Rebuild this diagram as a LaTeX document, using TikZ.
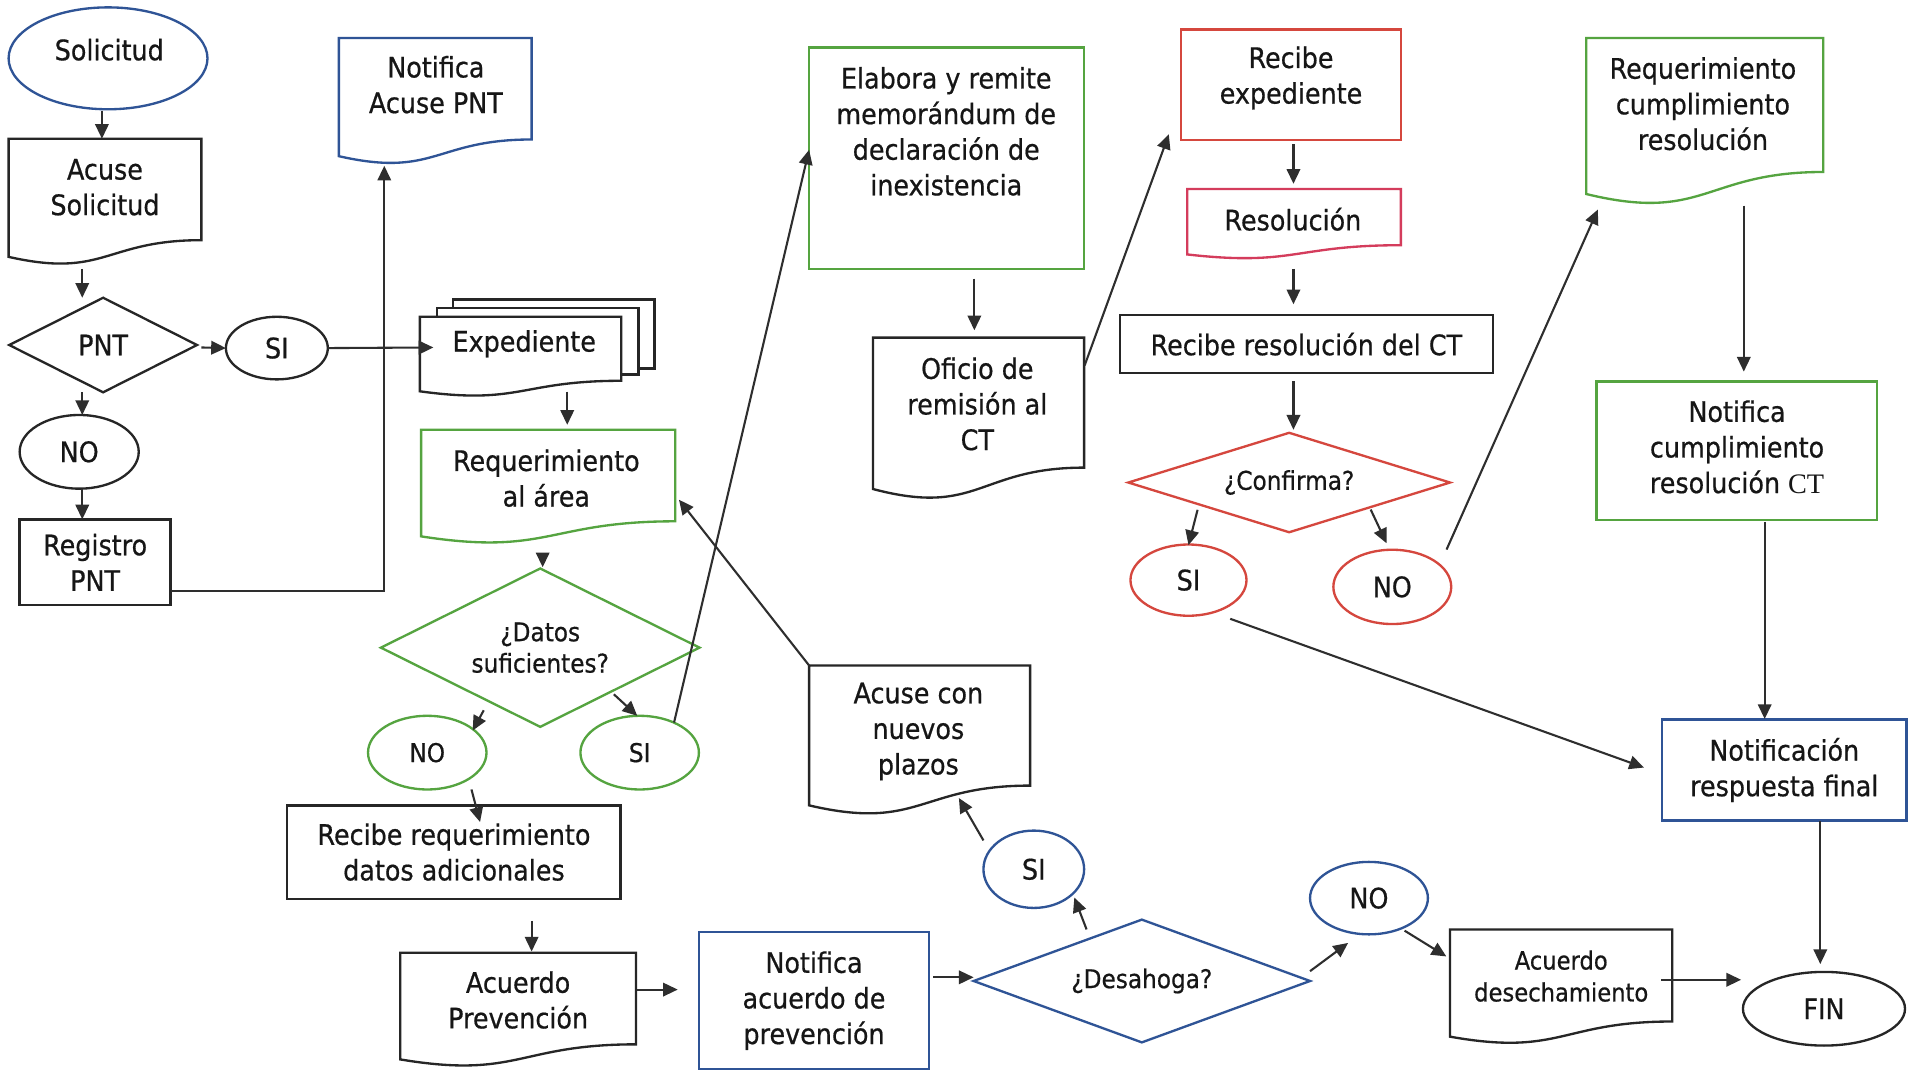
\documentclass[tikz,border=0pt]{standalone}
\usepackage{fontspec}
\setmainfont{DejaVu Sans}[FakeStretch=0.9,FakeBold=0.6]
\newfontfamily\ctfont{Liberation Serif}
\usetikzlibrary{shapes.geometric,arrows.meta,calc}
\definecolor{cblue}{HTML}{2F5496}
\definecolor{cgreen}{HTML}{55A440}
\definecolor{cred}{HTML}{D5473E}
\definecolor{cpink}{HTML}{D43C5C}
\definecolor{cdark}{HTML}{262626}
\definecolor{cline}{HTML}{2E2E2E}
\definecolor{ctext}{HTML}{161616}
\newcommand{\docoutline}[2]{%
  \draw[#2] let \p1=(#1.north west), \p2=(#1.south east) in
    (\x1,\y1) -- (\x2,\y1) -- (\x2,{\y1+0.802*(\y2-\y1)})
    .. controls ({(\x1+\x2)/2},{\y1+0.802*(\y2-\y1)}) and ({(\x1+\x2)/2},{\y1+1.107*(\y2-\y1)}) ..
    (\x1,{\y1+0.934*(\y2-\y1)}) -- cycle;}
\begin{document}
\begin{tikzpicture}[x=1pt,y=-1pt,
  every node/.style={inner sep=0pt, outer sep=0pt},
  shp/.style={line width=1.9pt},
  box/.style={shp, draw, rectangle},
  ell/.style={shp, draw, ellipse},
  dia/.style={shp, draw, diamond, shape aspect=2},
  ghost/.style={draw=none, rectangle},
  txt/.style={text=ctext, align=center, font=\fontsize{23}{29}\selectfont},
  stxt/.style={text=ctext, align=center, font=\fontsize{21}{25.5}\selectfont},
  arr/.style={draw=cline, line width=1.7pt, -{Triangle[length=12pt,width=11pt]}},
]
\fill[white] (0,0) rectangle (1563,871);
\useasboundingbox (0,0) rectangle (1563,871);

% ---------- column 1 ----------
\node[ell, draw=cblue, minimum width=162pt, minimum height=83pt] (sol) at (88,47.5) {};
\node[txt] (sol-t) at (89,40.5) {Solicitud};

\node[ghost, minimum width=157pt, minimum height=103pt] (acuse) at (85.5,164.5) {};
\docoutline{acuse}{shp,draw=cdark}
\node[txt] (acuse-t) at (85.5,152.5) {Acuse\\Solicitud};

\node[dia, txt, draw=cdark, minimum width=153pt, minimum height=77pt] (pnt) at (84,281) {PNT};
\node[ell, txt, draw=cdark, minimum width=83pt, minimum height=51pt] (si1) at (225.5,283.5) {SI};
\node[ell, txt, draw=cdark, minimum width=97pt, minimum height=60pt] (no1) at (64.5,368) {NO};
\node[box, txt, draw=cdark, minimum width=123pt, minimum height=70pt] (reg) at (77.5,458) {Registro\\PNT};

\node[ghost, minimum width=157pt, minimum height=103pt] (notacuse) at (354.5,82.5) {};
\docoutline{notacuse}{shp,draw=cblue}
\node[txt] (notacuse-t) at (355,69) {Notifica\\Acuse PNT};

% ---------- Expediente (multi document) ----------
\node[ghost, minimum width=164pt, minimum height=65pt] (exped) at (424,290.5) {};
\draw[shp,draw=cdark] ([shift={(27,-7)}]exped.north west) -- ([shift={(27,-14)}]exped.north west)
  -- ([shift={(27,-14)}]exped.north east) -- ([shift={(27,42)}]exped.north east) -- ([shift={(14,42)}]exped.north east);
\draw[shp,draw=cdark] ([shift={(14,0)}]exped.north west) -- ([shift={(14,-7)}]exped.north west)
  -- ([shift={(14,-7)}]exped.north east) -- ([shift={(14,47)}]exped.north east) -- ([shift={(0,47)}]exped.north east);
\docoutline{exped}{shp,draw=cdark}
\node[txt] (exped-t) at (427,280) {Expediente};

\node[ghost, minimum width=207pt, minimum height=93pt] (reqarea) at (446.5,396.5) {};
\docoutline{reqarea}{shp,draw=cgreen}
\node[txt] (reqarea-t) at (445,389.5) {Requerimiento\\al área};

\node[dia, stxt, draw=cgreen, minimum width=259.5pt, minimum height=129pt] (datos) at (440,527.5) {¿Datos\\suficientes?};
\node[ell, stxt, draw=cgreen, minimum width=96.5pt, minimum height=60pt] (nog) at (348,613) {NO};
\node[ell, stxt, draw=cgreen, minimum width=96.5pt, minimum height=60pt] (sig) at (521,613) {SI};

\node[box, txt, draw=cdark, minimum width=271.5pt, minimum height=76pt] (recreq) at (369.75,694) {Recibe requerimiento\\datos adicionales};

\node[ghost, minimum width=192pt, minimum height=93pt] (acprev) at (422,822.5) {};
\docoutline{acprev}{shp,draw=cdark}
\node[txt] (acprev-t) at (422,814.5) {Acuerdo\\Prevención};

\node[box, txt, draw=cblue, minimum width=187pt, minimum height=112pt] (notacu) at (663,815) {Notifica\\acuerdo de\\prevención};

\node[dia, stxt, draw=cblue, minimum width=274pt, minimum height=100pt] (desah) at (930,799) {¿Desahoga?};
\node[ell, txt, draw=cblue, minimum width=82pt, minimum height=63pt] (sib) at (842,708) {SI};

\node[ghost, minimum width=180pt, minimum height=122pt] (plazos) at (749,603) {};
\docoutline{plazos}{shp,draw=cdark}
\node[txt] (plazos-t) at (748,595.8) {Acuse con\\nuevos\\plazos};

\node[ell, txt, draw=cblue, minimum width=96pt, minimum height=59pt] (nob) at (1115,731.5) {NO};

\node[ghost, minimum width=181pt, minimum height=93.5pt] (desech) at (1271.5,803.75) {};
\docoutline{desech}{shp,draw=cdark}
\node[text=ctext, align=center, font=\fontsize{20.5}{26}\selectfont] (desech-t) at (1271.6,795) {Acuerdo\\desechamiento};

\node[ell, txt, draw=cdark, minimum width=132pt, minimum height=60pt] (fin) at (1485.6,821.6) {FIN};

% ---------- middle / right ----------
\node[box, draw=cgreen, minimum width=224pt, minimum height=180.4pt] (elab) at (771,128.8) {};
\node[txt] (elab-t) at (770.7,107) {Elabora y remite\\memorándum de\\declaración de\\inexistencia};

\node[ghost, minimum width=172pt, minimum height=132pt] (oficio) at (797,341) {};
\docoutline{oficio}{shp,draw=cdark}
\node[txt] (oficio-t) at (796,329) {Oficio de\\remisión al\\CT};

\node[box, draw=cred, minimum width=179pt, minimum height=90pt] (recexp) at (1051.5,69) {};
\node[txt] (recexp-t) at (1051.5,63.5) {Recibe\\expediente};

\node[ghost, minimum width=174pt, minimum height=57pt] (resol) at (1054,182.5) {};
\docoutline{resol}{shp,draw=cpink}
\node[txt] (resol-t) at (1053,178.6) {Resolución};

\node[box, txt, draw=cdark, minimum width=304pt, minimum height=47.5pt] (recres) at (1064,280.25) {Recibe resolución del CT};

\node[dia, stxt, draw=cred, minimum width=262pt, minimum height=81pt] (conf) at (1050,393) {¿Confirma?};
\node[ell, txt, draw=cred, minimum width=94.5pt, minimum height=58pt] (sir) at (968,472.5) {SI};
\node[ell, txt, draw=cred, minimum width=96pt, minimum height=60.5pt] (nor) at (1134,478) {NO};

\node[ghost, minimum width=193pt, minimum height=136pt] (reqcump) at (1388.5,99) {};
\docoutline{reqcump}{shp,draw=cgreen}
\node[txt] (reqcump-t) at (1387,84.5) {Requerimiento\\cumplimiento\\resolución};

\node[box, draw=cgreen, minimum width=228.3pt, minimum height=112.7pt] (notcump) at (1414.5,367) {};
\node[txt] (notcump-t) at (1414.8,364) {Notifica\\cumplimiento\\resolución {\ctfont CT}};

\node[box, txt, draw=cblue, minimum width=199pt, minimum height=82.3pt] (notfin) at (1453.25,627.15) {Notificación\\respuesta final};

% ---------- connectors ----------
\draw[arr] ([shift={(-5,1)}]sol.south) -- ([shift={(-2.5,0)}]acuse.north);
\draw[arr] ([shift={(-18.5,3)}]acuse.south) -- ([shift={(-17,0)}]pnt.north);
\draw[arr] ([shift={(3.5,2)}]pnt.east) -- (si1.west);
\draw[arr] (si1.east) -- ([shift={(11,-7.5)}]exped.west);
\draw[arr] ([shift={(-17,0)}]pnt.south) -- ([shift={(2.5,0)}]no1.north);
\draw[arr] ([shift={(2.5,0)}]no1.south) -- ([shift={(-10.5,0)}]reg.north);
\draw[arr] ([shift={(0,-12)}]reg.south east) -| ([shift={(-41.5,1)}]notacuse.south);
\draw[arr] ([shift={(38,-4)}]exped.south) -- ([shift={(15.5,-4)}]reqarea.north);
\draw[arr] ([shift={(-4.5,8)}]reqarea.south) -- ([shift={(2,-1)}]datos.north);
\draw[arr] ([shift={(-46,-13.5)}]datos.south) -- ([shift={(37,12)}]nog.north);
\draw[arr] ([shift={(60,-26.5)}]datos.south) -- ([shift={(-2,0)}]sig.north);
\draw[arr] ([shift={(28,5.5)}]sig.north) -- ([shift={(0,-6.8)}]elab.west);
\draw[arr] ([shift={(36,0)}]nog.south) -- ([shift={(21.25,13.5)}]recreq.north);
\draw[arr] ([shift={(63.25,18)}]recreq.south) -- ([shift={(11,-1)}]acprev.north);
\draw[arr] ([shift={(1,-16.5)}]acprev.east) -- ([shift={(-17.5,-9)}]notacu.west);
\draw[arr] ([shift={(3.5,-19)}]notacu.east) -- ([shift={(0,-3)}]desah.west);
\draw[arr] ([shift={(-45,-42)}]desah.center) -- ([shift={(33,23)}]sib.center);
\draw[arr] ([shift={(-41,-23.5)}]sib.center) -- ([shift={(32,-14)}]plazos.south);
\draw[arr] (plazos.north west) -- ([shift={(3,10.5)}]reqarea.east);
\draw[arr] ([shift={(0,-8)}]desah.east) -- ([shift={(-17,36.5)}]nob.center);
\draw[arr] ([shift={(29,26.5)}]nob.center) -- ([shift={(-3,-24.75)}]desech.west);
\draw[arr] ([shift={(-9,-5.75)}]desech.east) -- ([shift={(-1.5,-23.6)}]fin.west);
\draw[arr] ([shift={(22.6,8)}]elab.south) -- ([shift={(-3.4,-6)}]oficio.north);
\draw[arr] ([shift={(0.4,22.7)}]oficio.north east) -- ([shift={(-10,-4.6)}]recexp.south west);
\draw[arr] ([shift={(2,3.5)}]recexp.south) -- ([shift={(-0.5,-4.3)}]resol.north);
\draw[arr] ([shift={(-0.5,7.9)}]resol.south) -- ([shift={(-10.5,-8.7)}]recres.north);
\draw[arr] ([shift={(-10.5,6.6)}]recres.south) -- ([shift={(3.5,-2.5)}]conf.north);
\draw[arr] ([shift={(-74.6,22.2)}]conf.center) -- ([shift={(0,0.5)}]sir.north);
\draw[arr] ([shift={(66.4,22)}]conf.center) -- ([shift={(-4.7,-5.3)}]nor.north);
\draw[arr] ([shift={(44.2,-30.4)}]nor.center) -- ([shift={(-87.1,71.7)}]reqcump.center);
\draw[arr] ([shift={(31.8,0.4)}]reqcump.south) -- ([shift={(5.8,-8)}]notcump.north);
\draw[arr] ([shift={(22.8,1.6)}]notcump.south) -- ([shift={(-15.95,-0.4)}]notfin.north);
\draw[arr] ([shift={(34,31.5)}]sir.center) -- ([shift={(-14.75,-2)}]notfin.west);
\draw[arr] ([shift={(29.35,0.7)}]notfin.south) -- ([shift={(-3,-6.4)}]fin.north);
\end{tikzpicture}
\end{document}
